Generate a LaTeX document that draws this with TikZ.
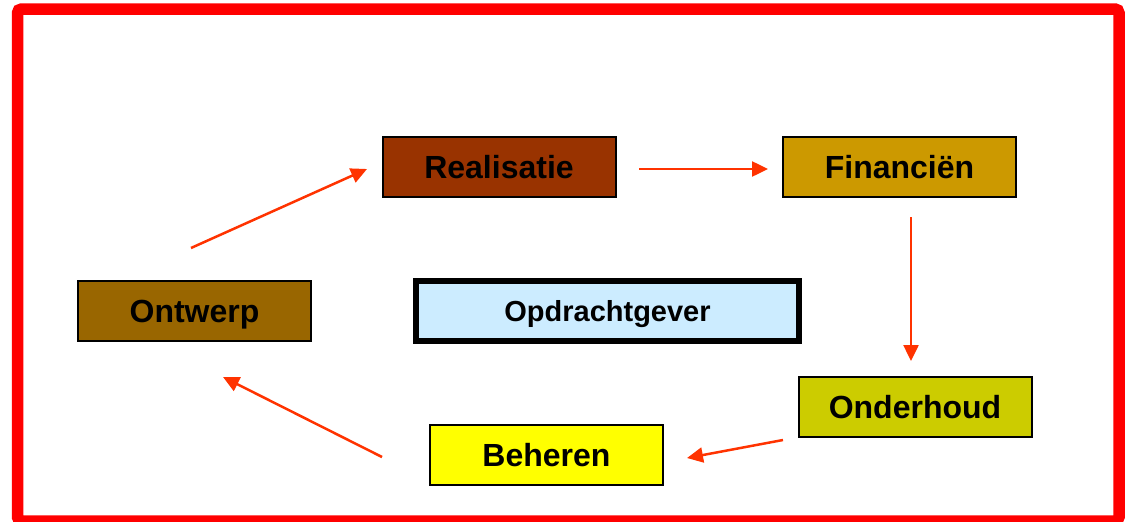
\documentclass[tikz,border=0pt]{standalone}
\usepackage{fontspec}
\setmainfont{Liberation Sans}
\usetikzlibrary{arrows.meta}
\definecolor{frame}{HTML}{FF0000}
\definecolor{arr}{HTML}{FF3300}
\definecolor{cReal}{HTML}{993300}
\definecolor{cFin}{HTML}{CC9900}
\definecolor{cOnd}{HTML}{CCCC00}
\definecolor{cBeh}{HTML}{FFFF00}
\definecolor{cOnt}{HTML}{996600}
\definecolor{cOpd}{HTML}{CCECFF}
\tikzset{
  stepbox/.style={draw=black, line width=2pt, minimum width=233pt, minimum height=60pt,
    inner sep=0pt, text height=23pt, text depth=0pt,
    font=\fontsize{32pt}{34pt}\selectfont\bfseries},
  centerbox/.style={draw=black, line width=6pt, fill=cOpd, minimum width=383pt, minimum height=60pt,
    inner sep=0pt, text height=20pt, text depth=0pt,
    font=\fontsize{29pt}{31pt}\selectfont\bfseries},
  flow/.style={draw=arr, line width=2.5pt, -{Triangle[length=16pt,width=15pt]}},
}
\begin{document}
\begin{tikzpicture}[x=1pt,y=-1pt]
\useasboundingbox (0,0) rectangle (1130,522);
\draw[frame, line width=11.5pt, rounded corners=4pt] (17.5,9) rectangle (1119,521);
\node[stepbox, fill=cReal] (real) at (499,166.5) {Realisatie};
\node[stepbox, fill=cFin] (fin) at (899.5,167) {Financiën};
\node[stepbox, fill=cOnd] (ond) at (915,407) {Onderhoud};
\node[stepbox, fill=cBeh] (beh) at (546.5,454.5) {Beheren};
\node[stepbox, fill=cOnt] (ont) at (194.5,311) {Ontwerp};
\node[centerbox] (opd) at (607.5,311) {Opdrachtgever};
\coordinate (a1s) at (191,248);
\coordinate (a1e) at (367,169);
\coordinate (a2s) at (639,169);
\coordinate (a2e) at (768,169);
\coordinate (a3s) at (911,217);
\coordinate (a3e) at (911,361);
\coordinate (a4s) at (783,440);
\coordinate (a4e) at (687,458);
\coordinate (a5s) at (382,457);
\coordinate (a5e) at (223,377);
\draw[flow] (a1s) -- (a1e);
\draw[flow] (a2s) -- (a2e);
\draw[flow] (a3s) -- (a3e);
\draw[flow] (a4s) -- (a4e);
\draw[flow] (a5s) -- (a5e);
\end{tikzpicture}
\end{document}
